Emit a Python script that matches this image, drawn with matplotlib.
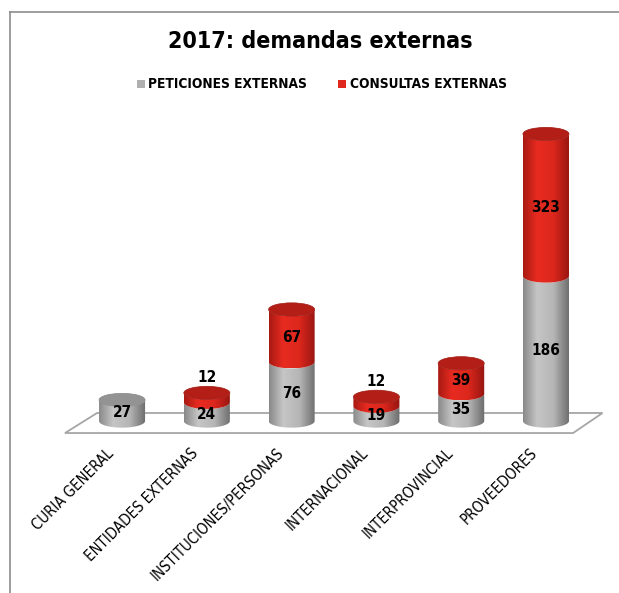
import numpy as np
import matplotlib
matplotlib.use("Agg")
import matplotlib.pyplot as plt
from matplotlib import font_manager
from matplotlib.colors import LinearSegmentedColormap
from matplotlib.patches import Polygon, Ellipse, Rectangle
from matplotlib.lines import Line2D

categories = ["CURIA GENERAL", "ENTIDADES EXTERNAS", "INSTITUCIONES/PERSONAS",
              "INTERNACIONAL", "INTERPROVINCIAL", "PROVEEDORES"]
peticiones = [27, 24, 76, 19, 35, 186]
consultas = [0, 12, 67, 12, 39, 323]
series_names = ["PETICIONES EXTERNAS", "CONSULTAS EXTERNAS"]
title = "2017: demandas externas"

# look for a narrow / condensed face if one is installed
narrow = None
for f in font_manager.fontManager.ttflist:
    n = (f.name + " " + str(f.stretch)).lower()
    if "narrow" in n or "condensed" in n:
        narrow = f
        break

FONT = "Liberation Sans"
STRETCH = "normal"
if narrow is not None:
    FONT = narrow.name
    STRETCH = narrow.stretch
plt.rcParams['font.family'] = [FONT, "DejaVu Sans"]
plt.rcParams['font.stretch'] = STRETCH
NARROW = narrow is not None

W, H = 619, 593
fig = plt.figure(figsize=(W / 100, H / 100), dpi=100)

YMAX = 368
YMIN = -16
ax = fig.add_axes([0.1287, (H - 433.5) / H, 0.9505 - 0.1287, (433.5 - 134) / H])
ax.set_xlim(-0.5, 5.5)
ax.set_ylim(YMIN, YMAX)
ax.axis("off")

# floor
floor = Polygon([(-0.673, -15.4), (5.32, -15.4), (5.667, 10.3), (-0.295, 10.3)],
                closed=True, facecolor="white", edgecolor="#a6a6a6", lw=1.3,
                clip_on=False, zorder=1)
ax.add_patch(floor)

gray_cmap = LinearSegmentedColormap.from_list("g", [(0, "#8a8a8a"), (0.3, "#c6c6c6"),
                                                    (0.65, "#b6b6b6"), (1, "#6c6c6c")])
red_cmap = LinearSegmentedColormap.from_list("r", [(0, "#a81a12"), (0.3, "#e82b21"),
                                                   (0.65, "#dc271d"), (1, "#961510")])
grad = np.linspace(0, 1, 64).reshape(1, -1)

BW = 0.543
E = 8.5  # ellipse half height (data units)
theta = np.linspace(np.pi, 2 * np.pi, 40)

def segment(cx, y0, y1, cmap, z):
    xs = cx + BW / 2 * np.cos(theta)
    lower0 = np.column_stack([xs, y0 + E * np.sin(theta)])
    lower1 = np.column_stack([xs, y1 + E * np.sin(theta)])[::-1]
    poly = Polygon(np.vstack([lower0, lower1]), closed=True, facecolor="none",
                   edgecolor="none", transform=ax.transData)
    ax.add_patch(poly)
    im = ax.imshow(grad, cmap=cmap, aspect="auto", extent=(cx - BW / 2, cx + BW / 2, y0 - E, y1 + E),
                   zorder=z, interpolation="bilinear")
    im.set_clip_path(poly)
    im.set_clip_on(True)

VFS = 11 if NARROW else 10.5
x = np.arange(len(categories))
for i in x:
    g = peticiones[i]
    r = consultas[i]
    top_g = min(g, YMAX)
    segment(i, 0, top_g, gray_cmap, 3)
    if r > 0:
        top_r = min(g + r, YMAX)
        segment(i, top_g, top_r, red_cmap, 3)
        cap = Ellipse((i, top_r), BW, 2 * E, facecolor="#b31e17", edgecolor="#a01a13", lw=0.5,
                      zorder=4, clip_on=False)
        ax.add_patch(cap)
        if r < 20:
            ax.text(i, top_r + E + 2, str(r), ha="center", va="bottom", fontsize=VFS,
                    fontweight="bold", zorder=6)
        else:
            ax.text(i, (top_g + top_r) / 2 - 3, str(r), ha="center", va="center", fontsize=VFS,
                    fontweight="bold", zorder=6)
    else:
        cap = Ellipse((i, top_g), BW, 2 * E, facecolor="#939393", edgecolor="#888888", lw=0.5,
                      zorder=4)
        ax.add_patch(cap)
    ax.text(i, top_g / 2 - 3, str(g), ha="center", va="center", fontsize=VFS,
            fontweight="bold", zorder=6)

ax.set_xlim(-0.5, 5.5)
ax.set_ylim(YMIN, YMAX)

# category labels (rotated)
for i, c in enumerate(categories):
    ax.annotate(c, xy=(i, 0), xycoords=("data", "axes fraction"),
                xytext=(-16, -12), textcoords="offset pixels",
                rotation=45, ha="right", va="top", rotation_mode="anchor",
                fontsize=10.7 if NARROW else 10, annotation_clip=False)

# title & legend
fig.text(0.518, (H - 42) / H, title, ha="center", va="center",
         fontsize=16.7 if NARROW else 17.5, fontweight="bold")
legend_y = (H - 84) / H
LFS = 9.8
fig.patches.append(Rectangle((137 / W, legend_y - 4 / H), 8 / W, 8 / H, transform=fig.transFigure,
                             facecolor="#b0b0b0", edgecolor="none"))
fig.text(148 / W, legend_y, series_names[0], ha="left", va="center", fontsize=LFS, fontweight="bold")
fig.patches.append(Rectangle((338 / W, legend_y - 4 / H), 8 / W, 8 / H, transform=fig.transFigure,
                             facecolor="#e0281e", edgecolor="none"))
fig.text(350 / W, legend_y, series_names[1], ha="left", va="center", fontsize=LFS, fontweight="bold")

# frame
fig.add_artist(Line2D([10 / W, 10 / W], [0, (H - 12) / H], color="#8c8c8c", lw=1.2))
fig.add_artist(Line2D([10 / W, 1], [(H - 12) / H, (H - 12) / H], color="#8c8c8c", lw=1.2))

fig.savefig("out.png", dpi=100)
